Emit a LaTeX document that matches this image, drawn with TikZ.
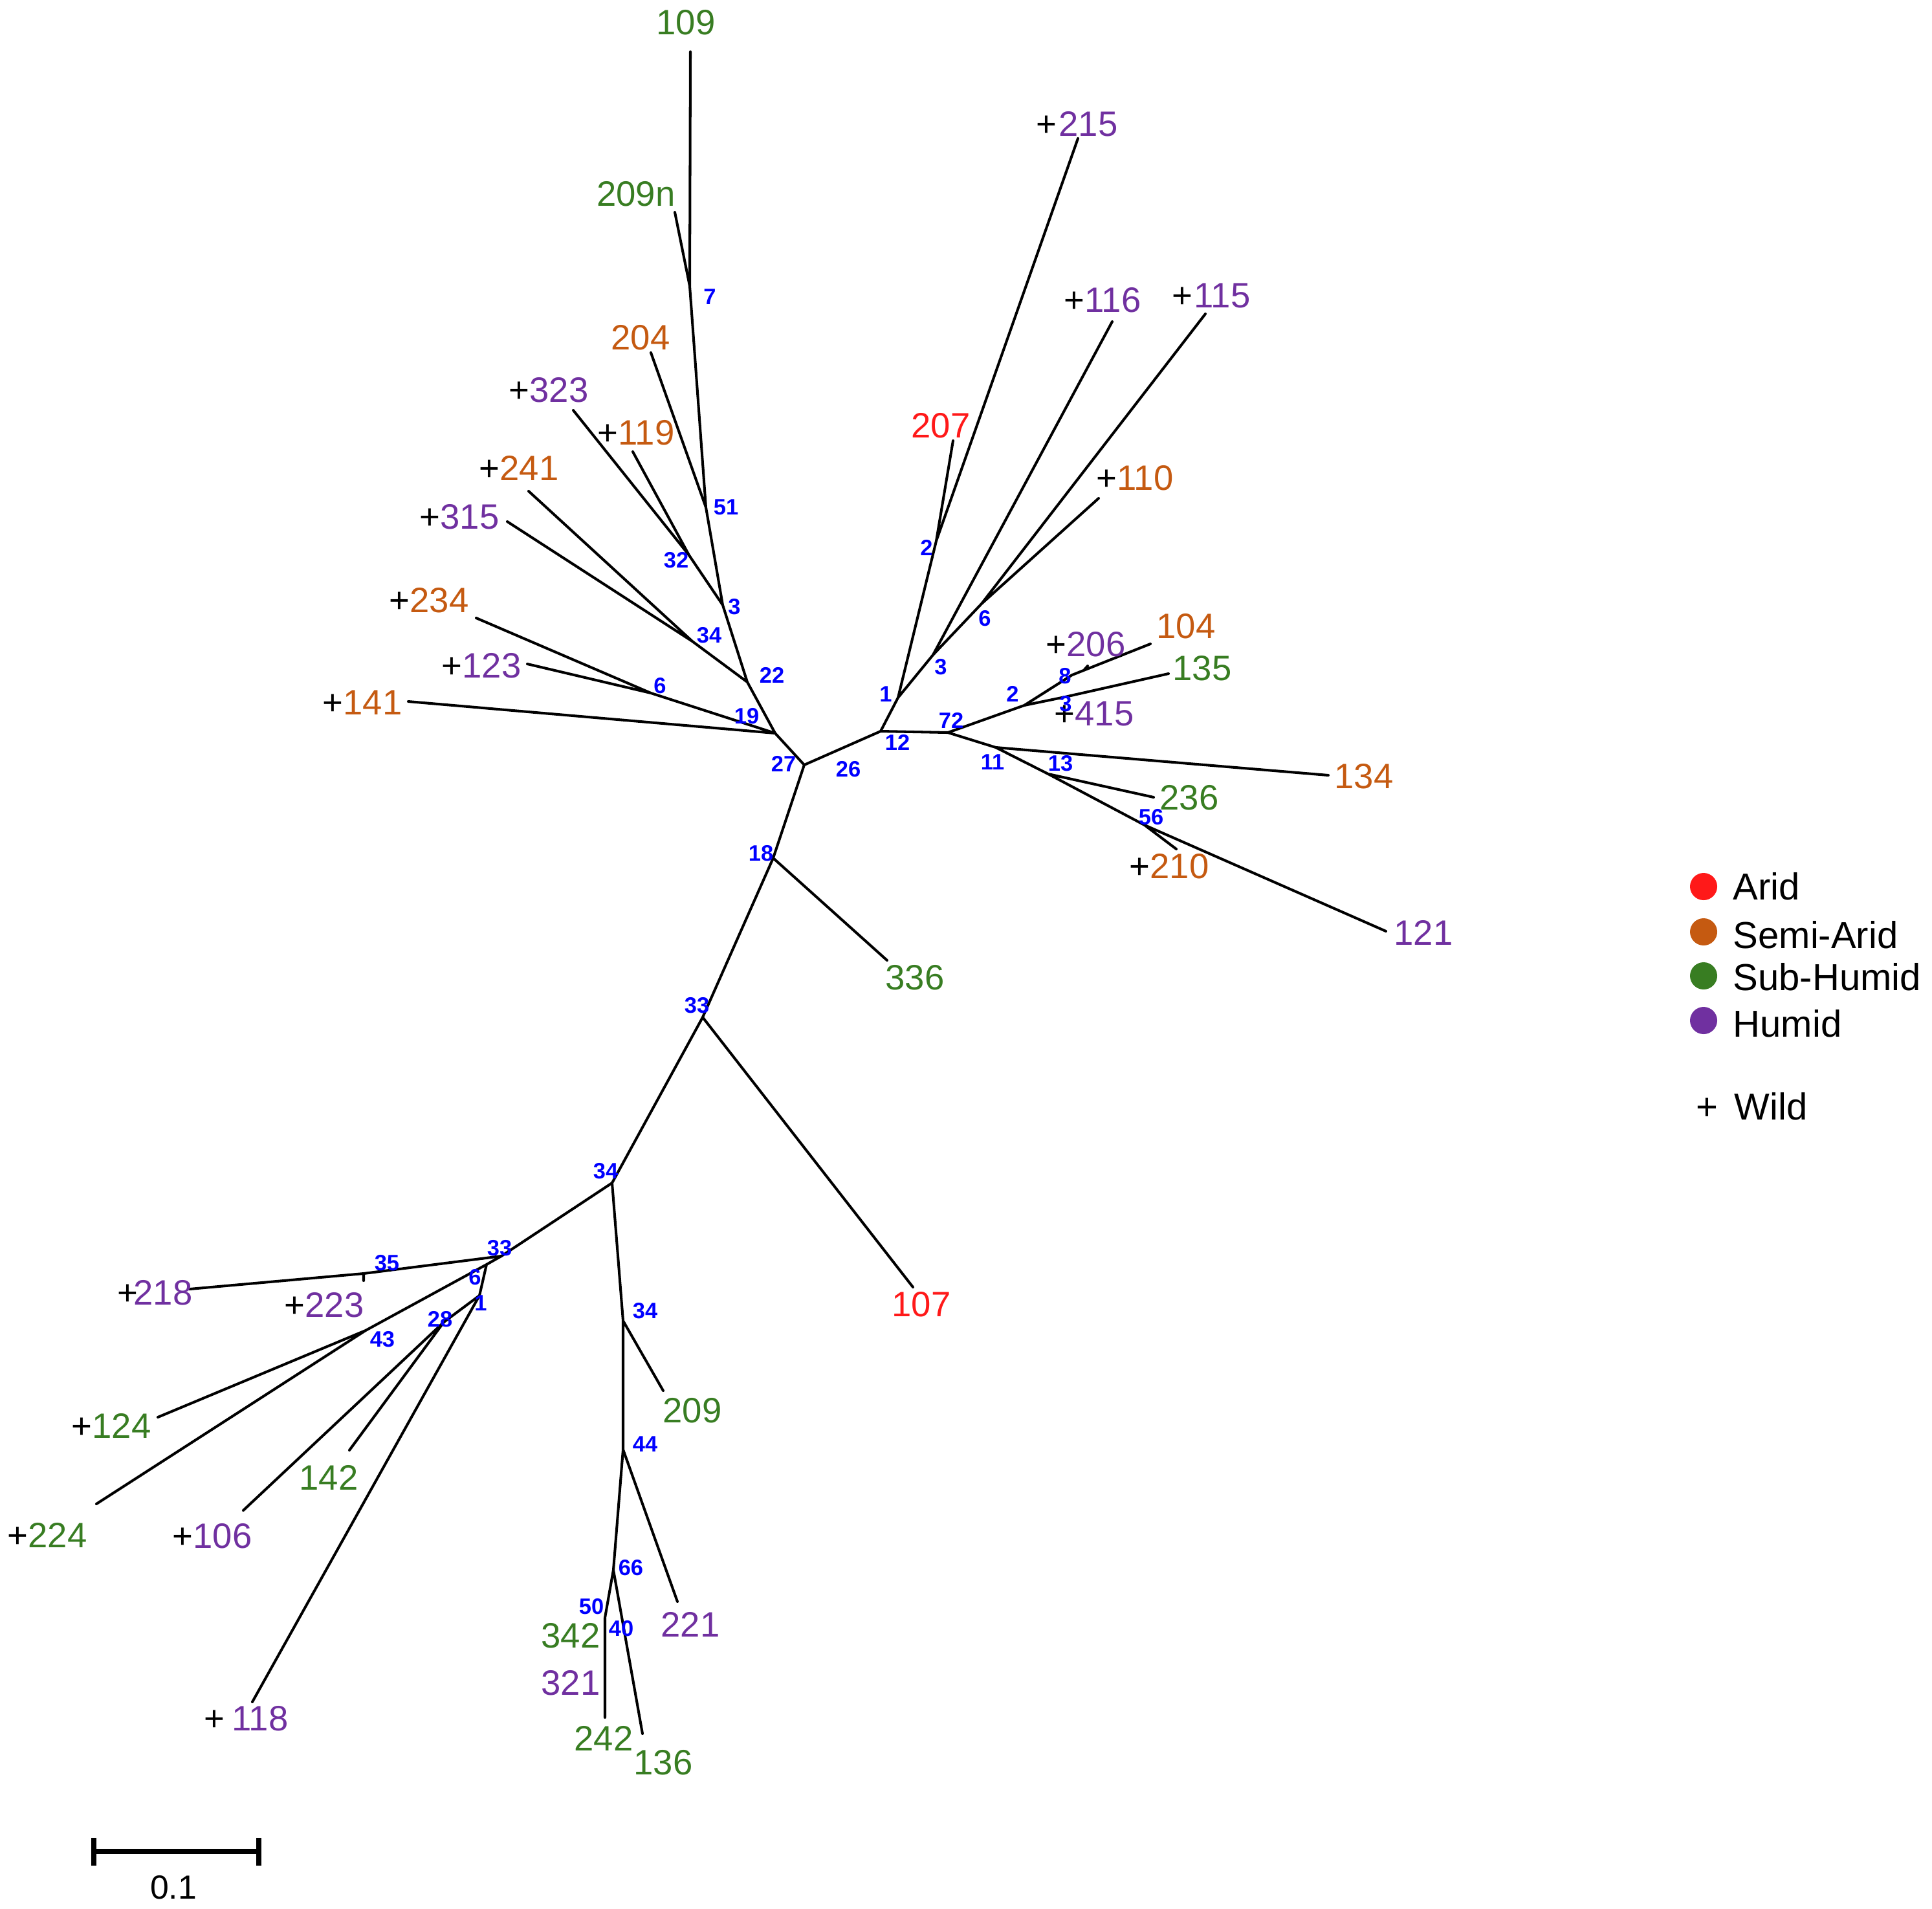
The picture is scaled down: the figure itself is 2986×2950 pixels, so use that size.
\documentclass[tikz,border=0pt]{standalone}
\usepackage{fontspec}
\setmainfont{Liberation Sans}
\definecolor{arid}{RGB}{255,25,25}
\definecolor{semi}{RGB}{197,90,17}
\definecolor{sub}{RGB}{56,125,34}
\definecolor{hum}{RGB}{112,48,160}
\definecolor{bsblue}{RGB}{0,0,255}
\newcommand{\wild}[1][0em]{\llap{\textcolor{black}{+}\kern#1}}
\begin{document}
\begin{tikzpicture}[x=0.01cm,y=-0.01cm,
  br/.style={line width=1.15pt, line cap=round, line join=round},
  lf/.style={font=\fontsize{15.5}{18}\selectfont, inner sep=0pt},
  bs/.style={text=bsblue, font=\bfseries\fontsize{9.8}{11}\selectfont, inner sep=0pt},
  lg/.style={font=\fontsize{16.5}{19}\selectfont, inner sep=0pt, anchor=base west},
  dot/.style={circle, inner sep=0pt, minimum size=0.42cm}]
\useasboundingbox (0,0) rectangle (2986,2950);

% ---------- internal nodes and branch ends ----------
\coordinate (A) at (1243,1182);
\coordinate (J19) at (1198,1133);
\coordinate (J22) at (1155,1054);
\coordinate (J3) at (1117,935);
\coordinate (J51) at (1091,784);
\coordinate (J7) at (1066,442);
\coordinate (J32) at (1065,858);
\coordinate (J34) at (1070,991);
\coordinate (J6) at (1006,1071);
\coordinate (e109) at (1067,80);
\coordinate (e209n) at (1043,328);
\coordinate (e204) at (1006,545);
\coordinate (e323) at (886,634);
\coordinate (e119) at (978,698);
\coordinate (e241) at (817,759);
\coordinate (e315) at (784,806);
\coordinate (e234) at (736,955);
\coordinate (e123) at (815,1026);
\coordinate (e141) at (631,1084);

\coordinate (B) at (1361,1130);
\coordinate (J1) at (1388,1078);
\coordinate (J2) at (1447,836);
\coordinate (e207) at (1473,681);
\coordinate (e215) at (1666,214);
\coordinate (J3r) at (1442,1012);
\coordinate (e116) at (1719,497);
\coordinate (J6r) at (1517,933);
\coordinate (e115) at (1863,485);
\coordinate (e110) at (1698,770);
\coordinate (J72) at (1465,1132);
\coordinate (J2r) at (1583,1090);
\coordinate (J8) at (1657,1043);
\coordinate (e104) at (1778,995);
\coordinate (s206) at (1675,1036);
\coordinate (e206) at (1681,1029);
\coordinate (J3b) at (1646,1077);
\coordinate (e135) at (1806,1041);
\coordinate (J11) at (1539,1155);
\coordinate (e134) at (2053,1198);
\coordinate (J13) at (1620,1196);
\coordinate (e236) at (1783,1232);
\coordinate (J56) at (1769,1275);
\coordinate (e210) at (1818,1312);
\coordinate (e121) at (2142,1439);

\coordinate (J18) at (1195,1326);
\coordinate (e336) at (1371,1484);
\coordinate (J33) at (1086,1572);
\coordinate (e107) at (1411,1989);
\coordinate (J34a) at (946,1828);
\coordinate (J34b) at (963,2041);
\coordinate (e209) at (1025,2149);
\coordinate (J44) at (963,2240);
\coordinate (e221) at (1047,2475);
\coordinate (J66) at (948,2426);
\coordinate (J50) at (935,2500);
\coordinate (e242) at (935,2654);
\coordinate (e136) at (993,2679);

\coordinate (J33b) at (775,1941);
\coordinate (J35) at (562,1968);
\coordinate (e218) at (293,1992);
\coordinate (e223) at (562,1979);
\coordinate (J6b) at (752,1954);
\coordinate (J43) at (565,2056);
\coordinate (e124) at (244,2190);
\coordinate (e224) at (149,2324);
\coordinate (J1b) at (741,2002);
\coordinate (J28) at (686,2043);
\coordinate (e106) at (376,2334);
\coordinate (e142) at (540,2241);
\coordinate (e118) at (390,2630);

% ---------- branches ----------
\draw[br] (A)--(J19) (J19)--(J22) (J22)--(J3) (J3)--(J51) (J51)--(J7)
  (J7)--(e109) (J7)--(e209n) (J51)--(e204) (J3)--(J32) (J32)--(e323)
  (J32)--(e119) (J22)--(J34) (J34)--(e241) (J34)--(e315) (J19)--(J6)
  (J6)--(e234) (J6)--(e123) (J19)--(e141);
\draw[br] (A)--(B) (B)--(J1) (J1)--(J2) (J2)--(e207) (J2)--(e215)
  (J1)--(J3r) (J3r)--(e116) (J3r)--(J6r) (J6r)--(e115) (J6r)--(e110)
  (B)--(J72) (J72)--(J2r) (J2r)--(J8) (J8)--(e104) (s206)--(e206)
  (J2r)--(J3b) (J3b)--(e135) (J72)--(J11) (J11)--(e134) (J11)--(J13)
  (J13)--(e236) (J13)--(J56) (J56)--(e210) (J56)--(e121);
\draw[br] (A)--(J18) (J18)--(e336) (J18)--(J33) (J33)--(e107) (J33)--(J34a)
  (J34a)--(J34b) (J34b)--(e209) (J34b)--(J44) (J44)--(e221) (J44)--(J66)
  (J66)--(J50) (J50)--(e242) (J66)--(e136);
\draw[br] (J34a)--(J33b) (J33b)--(J35) (J35)--(e218) (J35)--(e223)
  (J33b)--(J6b) (J6b)--(J43) (J43)--(e124) (J43)--(e224)
  (J6b)--(J1b) (J1b)--(J28) (J28)--(e106) (J28)--(e142) (J1b)--(e118);

% ---------- leaf labels ----------
\node[lf, text=sub]  (t109)  at (1060,35)   {109};
\node[lf, text=sub]  (t209n) at (983,300)   {209n};
\node[lf, text=semi] (t204)  at (990,522)   {204};
\node[lf, text=hum]  (t323)  at (864,603)   {\wild323};
\node[lf, text=semi] (t119)  at (999,669)   {\wild119};
\node[lf, text=semi] (t241)  at (818,723)   {\wild241};
\node[lf, text=hum]  (t315)  at (726,799)   {\wild315};
\node[lf, text=semi] (t234)  at (679,928)   {\wild234};
\node[lf, text=hum]  (t123)  at (760,1029)  {\wild123};
\node[lf, text=semi] (t141)  at (576,1086)  {\wild141};

\node[lf, text=hum]  (t215)  at (1682,192)  {\wild[0.05em]215};
\node[lf, text=hum]  (t116)  at (1720,464)  {\wild116};
\node[lf, text=hum]  (t115)  at (1889,457)  {\wild[0.05em]115};
\node[lf, text=arid] (t207)  at (1454,658)  {207};
\node[lf, text=semi] (t110)  at (1770,739)  {\wild110};
\node[lf, text=semi] (t104)  at (1833,968)  {104};
\node[lf, text=hum]  (t206)  at (1694,996)  {\wild206};
\node[lf, text=sub]  (t135)  at (1858,1033) {135};
\node[lf, text=hum]  (t415)  at (1707,1103) {\wild415};
\node[lf, text=semi] (t134)  at (2108,1200) {134};
\node[lf, text=sub]  (t236)  at (1838,1233) {236};
\node[lf, text=semi] (t210)  at (1823,1339) {\wild210};
\node[lf, text=hum]  (t121)  at (2200,1441) {121};
\node[lf, text=sub]  (t336)  at (1414,1511) {336};
\node[lf, text=arid] (t107)  at (1424,2016) {107};

\node[lf, text=sub]  (t209)  at (1070,2180) {209};
\node[lf, text=hum]  (t221)  at (1067,2510) {221};
\node[lf, text=sub]  (t342)  at (882,2528)  {342};
\node[lf, text=hum]  (t321)  at (882,2601)  {321};
\node[lf, text=sub]  (t242)  at (933,2686)  {242};
\node[lf, text=sub]  (t136)  at (1025,2724) {136};
\node[lf, text=hum]  (t218)  at (252,1998)  {\wild[-0.12em]218};
\node[lf, text=hum]  (t223)  at (517,2017)  {\wild223};
\node[lf, text=sub]  (t124)  at (188,2203)  {\wild124};
\node[lf, text=sub]  (t224)  at (89,2372)   {\wild224};
\node[lf, text=hum]  (t106)  at (344,2374)  {\wild106};
\node[lf, text=sub]  (t142)  at (508,2283)  {142};
\node[lf, text=hum]  (t118)  at (402,2656)  {\wild[0.2em]118};

% ---------- support values ----------
\node[bs] (b7)   at (1097,459)  {7};
\node[bs] (b51)  at (1122,784)  {51};
\node[bs] (b32)  at (1045,866)  {32};
\node[bs] (b3)   at (1135,938)  {3};
\node[bs] (b34)  at (1096,982)  {34};
\node[bs] (b22)  at (1193,1043) {22};
\node[bs] (b6)   at (1020,1060) {6};
\node[bs] (b19)  at (1154,1107) {19};
\node[bs] (b27)  at (1211,1180) {27};
\node[bs] (b26)  at (1311,1189) {26};
\node[bs] (b18)  at (1176,1319) {18};
\node[bs] (b33)  at (1077,1554) {33};
\node[bs] (b34a) at (936,1810)  {34};
\node[bs] (b34b) at (997,2026)  {34};
\node[bs] (b44)  at (997,2232)  {44};
\node[bs] (b66)  at (975,2423)  {66};
\node[bs] (b50)  at (914,2483)  {50};
\node[bs] (b40)  at (960,2517)  {40};
\node[bs] (b33b) at (772,1929)  {33};
\node[bs] (b35)  at (598,1952)  {35};
\node[bs] (b6b)  at (734,1974)  {6};
\node[bs] (b1b)  at (743,2014)  {1};
\node[bs] (b28)  at (680,2039)  {28};
\node[bs] (b43)  at (591,2070)  {43};
\node[bs] (b2)   at (1432,846)  {2};
\node[bs] (b1)   at (1369,1073) {1};
\node[bs] (b3r)  at (1454,1031) {3};
\node[bs] (b6r)  at (1522,956)  {6};
\node[bs] (b12)  at (1387,1147) {12};
\node[bs] (b72)  at (1470,1113) {72};
\node[bs] (b2r)  at (1565,1072) {2};
\node[bs] (b8)   at (1646,1045) {8};
\node[bs] (b3b)  at (1647,1088) {3};
\node[bs] (b11)  at (1534,1178) {11};
\node[bs] (b13)  at (1639,1180) {13};
\node[bs] (b56)  at (1779,1263) {56};

% ---------- legend ----------
\node[dot, fill=arid] (dArid) at (2633,1370) {};
\node[dot, fill=semi] (dSemi) at (2633,1440) {};
\node[dot, fill=sub]  (dSub)  at (2633,1508) {};
\node[dot, fill=hum]  (dHum)  at (2633,1577) {};
\node[lg] (lArid) at (2678,1390) {Arid};
\node[lg] (lSemi) at (2678,1465) {Semi-Arid};
\node[lg] (lSub)  at (2678,1530) {Sub-Humid};
\node[lg] (lHum)  at (2678,1602) {Humid};
\node[lg, anchor=base] (lPlus) at (2638,1730) {+};
\node[lg] (lWild) at (2680,1730) {Wild};

% ---------- scale bar ----------
\coordinate (sbL) at (145,2861);
\coordinate (sbR) at (400,2861);
\coordinate (sbLt) at (145,2840);
\coordinate (sbLb) at (145,2883);
\coordinate (sbRt) at (400,2840);
\coordinate (sbRb) at (400,2883);
\draw[line width=2.2pt] (sbL)--(sbR) (sbLt)--(sbLb) (sbRt)--(sbRb);
\node[font=\fontsize{14.7}{17}\selectfont, inner sep=0pt] (sbT) at (268,2917) {0.1};
\end{tikzpicture}
\end{document}
